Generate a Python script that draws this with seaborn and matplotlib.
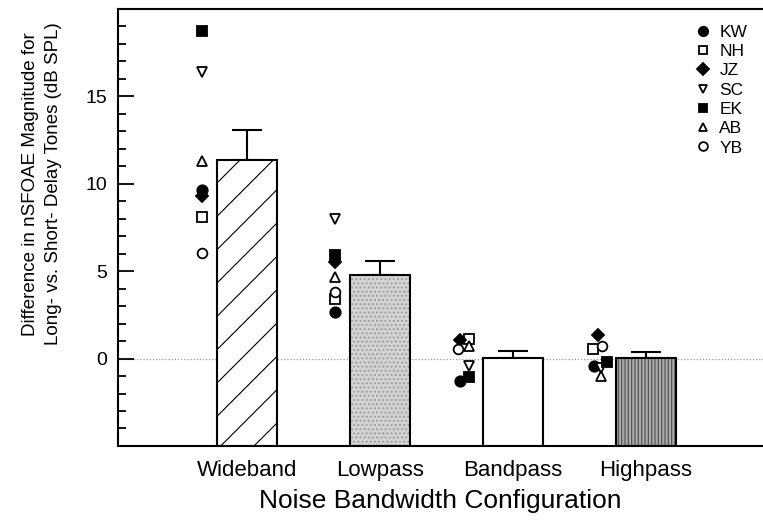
import matplotlib
matplotlib.use("Agg")
import matplotlib.pyplot as plt
import seaborn as sns
import pandas as pd
import numpy as np
from matplotlib.lines import Line2D

# ---------------- data ----------------
categories = ["Wideband", "Lowpass", "Bandpass", "Highpass"]
bar_means = [11.38, 4.78, 0.05, 0.05]
bar_err_up = [1.72, 0.80, 0.40, 0.35]

subjects = ["KW", "NH", "JZ", "SC", "EK", "AB", "YB"]
KW = [9.65, 2.65, -1.30, -0.45]
NH = [8.10, 3.40, 1.10, 0.55]
JZ = [9.30, 5.50, 1.05, 1.35]
SC = [16.40, 8.00, -0.40, -0.55]
EK = [18.75, 5.90, -1.05, -0.20]
AB = [11.27, 4.65, 0.70, -1.00]
YB = [6.05, 3.80, 0.55, 0.70]
subject_values = [KW, NH, JZ, SC, EK, AB, YB]

# small horizontal offsets of the individual symbols (category units)
KW_dx = [-0.34, -0.34, -0.40, -0.39]
NH_dx = [-0.34, -0.34, -0.33, -0.40]
JZ_dx = [-0.34, -0.34, -0.40, -0.36]
SC_dx = [-0.34, -0.34, -0.33, -0.34]
EK_dx = [-0.34, -0.34, -0.33, -0.29]
AB_dx = [-0.34, -0.34, -0.33, -0.34]
YB_dx = [-0.34, -0.34, -0.41, -0.33]
subject_dx = [KW_dx, NH_dx, JZ_dx, SC_dx, EK_dx, AB_dx, YB_dx]

# ---------------- styles ----------------
sub_marker = ["o", "s", "D", "v", "s", "^", "o"]
sub_filled = [True, False, True, False, True, False, False]
sub_size = [7.5, 6.5, 6.5, 7.0, 6.5, 7.0, 7.0]

bar_face = ["white", "#d2d2d2", "white", "#a8a8a8"]
bar_hatch = ["/", "....", "", "|||||"]
bar_hatchcol = ["black", "#9a9a9a", "black", "#505050"]

Y_BOTTOM = -5
Y_TOP = 20

sns.set_theme(style="white")
plt.rcParams["font.family"] = ["Liberation Sans", "DejaVu Sans"]
plt.rcParams["hatch.linewidth"] = 0.8
plt.rcParams["text.color"] = "black"
plt.rcParams["axes.labelcolor"] = "black"
plt.rcParams["xtick.color"] = "black"
plt.rcParams["ytick.color"] = "black"

fig = plt.figure(figsize=(7.63, 5.21), dpi=100)
ax = fig.add_axes([0.1547, 0.144, 0.845, 0.839])

df = pd.DataFrame({"cat": categories, "val": bar_means})

ax.axhline(0, color="#999999", ls=(0, (1, 1.5)), lw=0.9, zorder=0)


def extend_to_floor(patches, means):
    # bars in the reference rise from the bottom of the axis
    for p, m in zip(patches, means):
        p.set_y(Y_BOTTOM)
        p.set_height(m - Y_BOTTOM)


# filled / hatched bars
sns.barplot(data=df, x="cat", y="val", order=categories, errorbar=None,
            width=0.45, linewidth=0, ax=ax, zorder=2)
fill_patches = list(ax.patches)
for p, fc, h, hc in zip(fill_patches, bar_face, bar_hatch, bar_hatchcol):
    p.set_facecolor(fc)
    p.set_edgecolor(hc)
    p.set_hatch(h)
    p.set_linewidth(0)
extend_to_floor(fill_patches, bar_means)

# outlines
sns.barplot(data=df, x="cat", y="val", order=categories, errorbar=None,
            width=0.45, facecolor="none", edgecolor="black", linewidth=1.5,
            ax=ax, zorder=3)
outline_patches = list(ax.patches)[len(fill_patches):]
extend_to_floor(outline_patches, bar_means)

# upward error bars
xpos = np.arange(len(categories))
ax.errorbar(xpos, bar_means, yerr=[np.zeros(len(categories)), bar_err_up],
            fmt="none", ecolor="black", elinewidth=1.5, capsize=10.8,
            capthick=1.5, zorder=1)

# individual subjects
handles = []
for name, vals, dx, m, f, s in zip(subjects, subject_values, subject_dx,
                                   sub_marker, sub_filled, sub_size):
    xs = xpos + np.array(dx)
    ax.plot(xs, vals, ls="none", marker=m, markersize=s,
            markerfacecolor="black" if f else "white",
            markeredgecolor="black", markeredgewidth=1.3, zorder=5)
    handles.append(Line2D([], [], ls="none", marker=m, markersize=s * 0.9,
                          markerfacecolor="black" if f else "white",
                          markeredgecolor="black", markeredgewidth=1.3,
                          label=name))

leg = ax.legend(handles=handles, loc="upper right", frameon=False,
                fontsize=12.5, handlelength=0.8, handletextpad=0.55,
                labelspacing=0.24, borderaxespad=0.5,
                bbox_to_anchor=(1.0, 1.0))

# axes styling
ax.set_xlim(-0.97, 3.88)
ax.set_ylim(Y_BOTTOM, Y_TOP)
ax.set_yticks([0, 5, 10, 15])
ax.set_yticks(np.arange(-5, 21, 1), minor=True)
ax.tick_params(axis="y", which="major", direction="in", length=11.5,
               width=1.3, labelsize=14, pad=8, color="black", left=True)
ax.tick_params(axis="y", which="minor", direction="in", length=5.8,
               width=1.3, color="black", left=True)
ax.tick_params(axis="x", length=0, labelsize=16, pad=10)
for side in ["left", "bottom", "top"]:
    ax.spines[side].set_visible(True)
    ax.spines[side].set_color("black")
    ax.spines[side].set_linewidth(1.5)
ax.spines["right"].set_visible(False)

ax.set_xlabel("Noise Bandwidth Configuration", fontsize=19, labelpad=6)
ax.set_ylabel("Difference in nSFOAE Magnitude for\nLong- vs. Short- Delay Tones (dB SPL)",
              fontsize=13.5, linespacing=1.45)
ax.yaxis.set_label_coords(-0.087, 0.60)

fig.savefig("out.png", dpi=100)
